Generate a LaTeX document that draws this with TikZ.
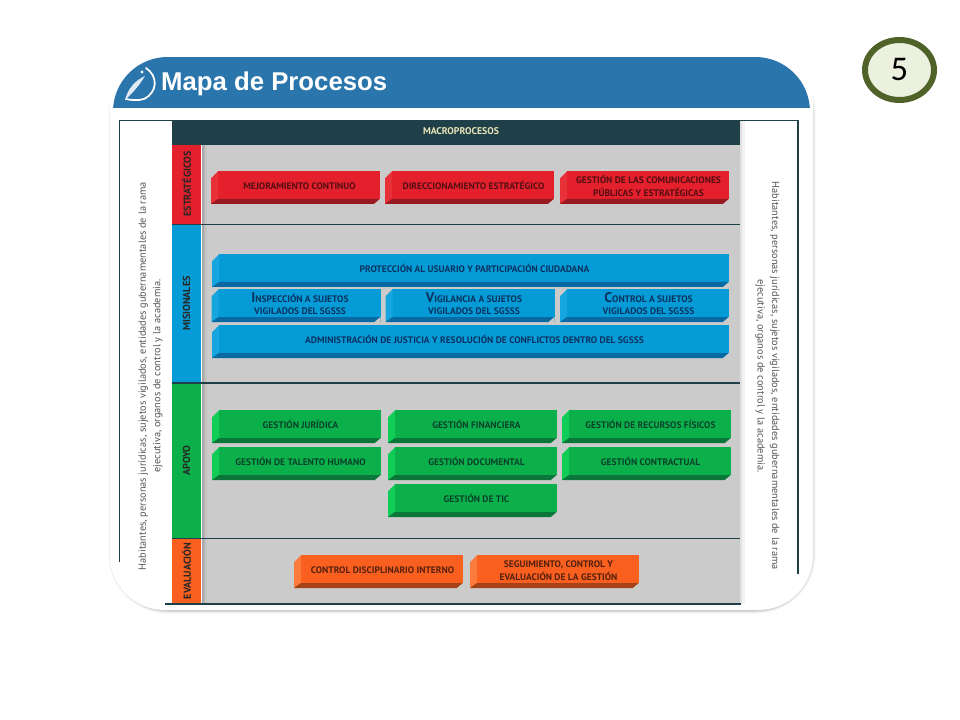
\documentclass[tikz,border=0pt]{standalone}
\usepackage{fontspec}
\setmainfont{PT Sans}
\newfontfamily\titlefont{Liberation Sans}
\newfontfamily\numfont{Carlito}
\usetikzlibrary{positioning,calc,shapes.geometric}

\definecolor{headblue}{RGB}{42,117,172}
\definecolor{headdark}{RGB}{31,64,72}
\definecolor{paneground}{RGB}{203,203,203}
\definecolor{sidetext}{RGB}{85,85,85}
\definecolor{estrface}{RGB}{227,32,43}
\definecolor{estrlight}{RGB}{232,48,56}
\definecolor{estrdark}{RGB}{150,26,32}
\definecolor{estrtext}{RGB}{85,14,20}
\definecolor{misiface}{RGB}{5,155,214}
\definecolor{misilight}{RGB}{22,165,222}
\definecolor{misidark}{RGB}{10,105,160}
\definecolor{misitext}{RGB}{8,50,95}
\definecolor{apoyface}{RGB}{12,176,74}
\definecolor{apoylight}{RGB}{15,205,86}
\definecolor{apoydark}{RGB}{10,118,58}
\definecolor{apoytext}{RGB}{8,66,42}
\definecolor{evalface}{RGB}{249,96,31}
\definecolor{evallight}{RGB}{251,122,60}
\definecolor{evaldark}{RGB}{165,66,26}
\definecolor{evaltext}{RGB}{85,32,14}

\newcommand{\boxtext}[1]{\hspace*{6pt}\raisebox{2pt}{\begin{tabular}{@{}c@{}}#1\end{tabular}}}
\newcommand{\capinit}[1]{{\fontsize{10.5}{9}\selectfont #1}}

\tikzset{
  procbox/.style={rectangle,inner sep=0pt,outer sep=0pt,minimum height=24.75pt,
    fill=#1face,text=#1text,font=\bfseries\fontsize{7.1}{9.3}\selectfont,
    path picture={
      \coordinate (bnw) at (path picture bounding box.north west);
      \coordinate (bne) at (path picture bounding box.north east);
      \coordinate (bsw) at (path picture bounding box.south west);
      \coordinate (bse) at (path picture bounding box.south east);
      \coordinate (bin) at ($($(bsw)!5.25pt!(bse)$)!3.75pt!($(bnw)!5.25pt!(bne)$)$);
      \coordinate (bir) at ($(bse)!3.75pt!(bne)$);
      \fill[#1light] (bsw) -- ($(bsw)!19.5pt!(bnw)$) -- ($(bnw)!5.25pt!(bne)$) -- (bin) -- cycle;
      \fill[#1dark] (bsw) -- (bin) -- (bir) -- ($(bse)!4.5pt!(bsw)$) -- cycle;
      \fill[paneground] (bnw) -- ($(bnw)!5.25pt!(bne)$) -- ($(bsw)!19.5pt!(bnw)$) -- cycle;
      \fill[paneground] (bse) -- (bir) -- ($(bse)!4.5pt!(bsw)$) -- cycle;
    }},
  widebox/.style={procbox=#1,minimum width=126.75pt},
  longbox/.style={procbox=#1,minimum width=387.75pt},
  sidebox/.style={rectangle,rotate=90,inner sep=0pt,outer sep=0pt,minimum height=22pt,
    text=black!85,font=\bfseries\fontsize{7.6}{8}\selectfont},
  rulerow/.style={draw=headdark,line width=1.1pt},
  margintext/.style={align=center,text=sidetext,font=\fontsize{7.76}{11}\selectfont},
  slidenum/.style={ellipse,draw={rgb,255:red,79;green,98;blue,40},line width=4.5pt,
    fill={rgb,255:red,235;green,241;blue,222},minimum width=51.75pt,minimum height=45pt,
    inner sep=0pt,outer sep=0pt,font=\numfont\fontsize{26}{26}\selectfont},
}

\begin{document}
\begin{tikzpicture}[x=0.75pt,y=0.75pt,yscale=-1]
\useasboundingbox (0,0) rectangle (960,720);

%Slide frame shadow
\foreach \w/\o in {9/.04,7/.06,5/.08,3/.11}{
  \draw[black,opacity=\o,line width=\w*.75pt,rounded corners=41pt] (113,60) rectangle (811,609);
}
\fill[white,rounded corners=41pt] (110,53) rectangle (813,610);

\begin{scope}
\clip[rounded corners=41pt] (113,57) rectangle (810,607);
%Blue header band
\fill[headblue] (105,57) rectangle (815,108);
%Outer line
\draw[headdark,line width=1pt] (119.5,562) -- (119.5,120.5) -- (798,120.5) -- (798,574);
%Grey pane
\fill[paneground] (202,144) rectangle (740,604);
\fill[black!34] (202,144) rectangle (203.5,604);
\fill[black!28] (203.5,144) rectangle (205,604);
\fill[black!23] (205,144) rectangle (206.5,604);
\fill[black!12] (740,121) rectangle (742,604);
\fill[black!5] (742,121) rectangle (744.5,604);
\fill[headdark] (172,120) rectangle (740,144);
\node[text={rgb,255:red,232;green,228;blue,184},font=\bfseries\fontsize{7.3}{8}\selectfont] (macro) at (461,131.5) {MACROPROCESOS};

%Logo
\draw[white,line width=1.3pt,line cap=round] (146,68) .. controls (158,76) and (158,92) .. (144,99) .. controls (138,101) and (130,100) .. (126,99);
\fill[white,opacity=.85] (125,100) .. controls (128,88) and (136,80) .. (145,76) .. controls (140,84) and (134,92) .. cycle;
\fill[white] (142,72) circle (1.6);

%Side columns
\node[sidebox,fill=estrface,minimum width=60pt] (colestr) at (186.5,184) {ESTRATÉGICOS};
\node[sidebox,fill=misiface,minimum width=119.25pt] (colmisi) at (186.5,303.5) {MISIONALES};
\node[sidebox,fill=apoyface,minimum width=116.25pt] (colapoy) at (186.5,460.5) {APOYO};
\node[sidebox,fill=evalface,minimum width=49.5pt] (coleval) at (186.5,571) {EVALUACIÓN};

%Row rules
\draw[rulerow] (172,144) -- (740,144);
\draw[rulerow] (172,224.5) -- (740,224.5);
\draw[rulerow] (172,383) -- (740,383);
\draw[rulerow] (172,538.5) -- (740,538.5);
\draw[rulerow] (165,604) -- (741,604);
\end{scope}

% Text Node
\node[anchor=west,text=white,font=\titlefont\bfseries\fontsize{19.3}{22}\selectfont] (title) at (156.5,84) {Mapa de Procesos};
\node[margintext,rotate=90] (publicleft) at (150.5,376) {Habitantes, personas jurídicas, sujetos vigilados, entidades gubernamentales de la rama\\ejecutiva, organos de control y la academia.};
\node[margintext,rotate=-90] (publicright) at (767.5,376) {Habitantes, personas jurídicas, sujetos vigilados, entidades gubernamentales de la rama\\ejecutiva, organos de control y la academia.};
\node[slidenum] (slideno) at (899.5,70) {5};

%Estrategicos
\node[widebox=estr] (mejora) at (295.5,187.5) {\boxtext{MEJORAMIENTO CONTINUO}};
\node[widebox=estr] (direc) at (469.5,187.5) {\boxtext{DIRECCIONAMIENTO ESTRATÉGICO}};
\node[widebox=estr] (comunic) at (644.5,187.5) {\boxtext{GESTIÓN DE LAS COMUNICACIONES\\PÚBLICAS Y ESTRATÉGICAS}};

%Misionales
\node[longbox=misi] (protec) at (470.5,270.5) {\boxtext{PROTECCIÓN AL USUARIO Y PARTICIPACIÓN CIUDADANA}};
\node[widebox=misi] (inspec) at (296,305.5) {\boxtext{\capinit{I}NSPECCIÓN A SUJETOS\\VIGILADOS DEL SGSSS}};
\node[widebox=misi] (vigil) at (470,305.5) {\boxtext{\capinit{V}IGILANCIA A SUJETOS\\VIGILADOS DEL SGSSS}};
\node[widebox=misi] (contr) at (644.5,305.5) {\boxtext{\capinit{C}ONTROL A SUJETOS\\VIGILADOS DEL SGSSS}};
\node[longbox=misi] (admin) at (470.5,341.5) {\boxtext{ADMINISTRACIÓN DE JUSTICIA Y RESOLUCIÓN DE CONFLICTOS DENTRO DEL SGSSS}};

%Apoyo
\node[widebox=apoy] (juri) at (296.5,426.5) {\boxtext{GESTIÓN JURÍDICA}};
\node[widebox=apoy] (finan) at (472.5,426.5) {\boxtext{GESTIÓN FINANCIERA}};
\node[widebox=apoy] (fisic) at (646.5,426.5) {\boxtext{GESTIÓN DE RECURSOS FÍSICOS}};
\node[widebox=apoy] (talen) at (296.5,463.5) {\boxtext{GESTIÓN DE TALENTO HUMANO}};
\node[widebox=apoy] (docum) at (472.5,463.5) {\boxtext{GESTIÓN DOCUMENTAL}};
\node[widebox=apoy] (contra) at (646.5,463.5) {\boxtext{GESTIÓN CONTRACTUAL}};
\node[widebox=apoy] (tic) at (472.5,500.5) {\boxtext{GESTIÓN DE TIC}};

%Evaluacion
\node[widebox=eval] (discip) at (378.5,571.5) {\boxtext{CONTROL DISCIPLINARIO INTERNO}};
\node[widebox=eval] (segui) at (554.5,571.5) {\boxtext{SEGUIMIENTO, CONTROL Y\\EVALUACIÓN DE LA GESTIÓN}};

\end{tikzpicture}
\end{document}
